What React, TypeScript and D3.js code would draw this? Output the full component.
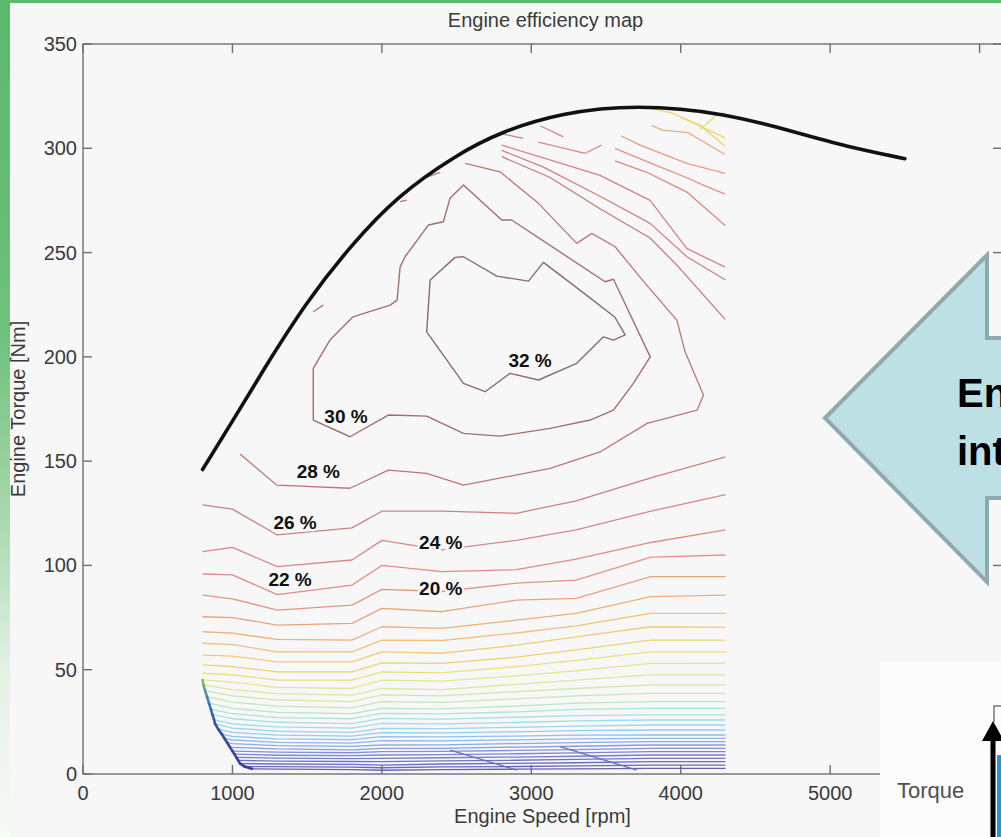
import React from "react";
import * as d3 from "d3";

// axis ticks
const xTicks = [0, 1000, 2000, 3000, 4000, 5000, 6000];
const xTickLabels = ["0", "1000", "2000", "3000", "4000", "5000"];
const yTicks = [0, 50, 100, 150, 200, 250, 300, 350];

// full load torque curve
const wotRpm = [800, 1000, 1200, 1500, 1800, 2100, 2500, 2800, 3200, 3700, 4300, 4800, 5100, 5500];
const wotTorque = [146, 169, 193, 227, 254, 277, 297, 308, 317, 321, 317, 307, 301, 295];

// efficiency contours (lower part) sampled at fixed speeds
const gridRpm = [1000, 1300, 1800, 2000, 2400, 2900, 3300, 3800, 4300];
const rowLevel = [26, 24, 22, 20, 18, 16.5, 15, 14, 13, 12, 11, 10.2, 9.5, 8.8, 8.1, 7.4, 6.8, 6.2, 5.6, 5, 4.5, 4, 3.5, 3, 2.5, 2, 1.6, 1.2, 0.8, 0.5, 0.2];
const rowStartRpm = [800, 800, 800, 800, 800, 800, 800, 800, 800, 800, 800, 806, 817, 830, 843, 856, 866, 877, 884, 905, 930, 947, 965, 982, 1000, 1013, 1026, 1039, 1052, 1080, 1130];
const rowStartTorque = [129, 106.6, 95.9, 85.8, 75.4, 68.2, 62.7, 57, 52.3, 48.3, 45.1, 42.7, 40, 37, 34, 31, 28.5, 26, 24, 21.5, 19, 17, 15, 13, 11, 9.5, 8, 6.5, 5, 3.6, 2.5];
const rowTorque: (number | null)[][] = [
  [127, 114.6, 118, 126, 126, 125, 131, 142, 152],
  [108.7, 99.4, 102.6, 112, 107.5, 112, 117, 126, 134],
  [95.5, 86, 90.6, 100, 97, 98, 103, 111, 117],
  [84, 78.6, 81, 88.5, 87.5, 91.5, 93, 104, 105],
  [75, 71.4, 72.2, 79.4, 77.8, 83.4, 84.2, 94.6, 94.6],
  [67.5, 64.5, 64.2, 70.6, 69.8, 73.8, 77, 85, 85.8],
  [62, 58.6, 58.6, 64.2, 64, 67.6, 71, 77, 77],
  [56.5, 53.8, 53.8, 58.6, 57.9, 61.8, 65.7, 70.6, 70.3],
  [51.5, 49, 49, 53.3, 53, 56, 59.5, 64.2, 64.2],
  [47.5, 45, 45, 49, 48.5, 51.5, 54.5, 58.6, 58.6],
  [44, 41.5, 41, 45, 44.5, 47, 49.5, 53, 53.1],
  [40.5, 38.5, 37.8, 41, 40.5, 43, 45, 47.5, 47.5],
  [37.5, 35.5, 34.7, 37.9, 37.5, 39.5, 41, 42.7, 42.7],
  [34.5, 32.5, 31.7, 34.7, 34.3, 36, 37.5, 38.7, 38.7],
  [31.5, 29.5, 28.9, 31.5, 31.2, 32.5, 34, 34.7, 34.7],
  [29, 27, 26.5, 29.1, 28.8, 29.8, 31, 31.5, 31.5],
  [26.5, 24.8, 24.2, 26.7, 26.3, 27.2, 28, 28.3, 28.3],
  [24, 22.6, 22, 24.3, 24, 24.7, 25.5, 25.9, 25.9],
  [22, 20.5, 20, 21.9, 21.8, 22.4, 23, 23.5, 23.5],
  [20, 18.6, 18.2, 19.8, 19.7, 20.2, 20.8, 21.1, 21.1],
  [18, 16.8, 16.5, 17.9, 17.8, 18.2, 18.6, 18.7, 18.7],
  [16.3, 15.2, 14.8, 16, 15.9, 16.4, 16.8, 17.1, 17.1],
  [14.6, 13.6, 13.2, 13.9, 14, 14.6, 15, 15.5, 15.5],
  [12.8, 12, 11.6, 12.3, 12.3, 12.9, 13.3, 13.9, 13.9],
  [null, 10.5, 10.2, 10.7, 10.8, 11.3, 11.7, 12.3, 12.3],
  [null, 9, 8.8, 9.1, 9.3, 9.7, 10.1, 10.7, 10.7],
  [null, 7.6, 7.4, 7.5, 7.8, 8.1, 8.5, 9.1, 9.1],
  [null, 6.2, 6, 5.9, 6.3, 6.6, 7, 7.5, 7.5],
  [null, 4.8, 4.6, 4.3, 4.8, 5.1, 5.4, 5.9, 5.9],
  [null, 3.5, 3.3, 3, 3.4, 3.6, 3.9, 4.3, 4.3],
  [null, 2.3, 2.1, 1.8, 2.1, 2.3, 2.5, 2.7, 2.7],
];

// low-load diagonal contours near zero torque
const lowDiag = [
  [[2456, 11.5], [2903, 1.9]],
  [[3193, 13.1], [3706, 1.9]],
];

// island contours around the best point
const loop32 = [[2490, 247.7], [2546, 248], [2769, 238.7], [2981, 236.3], [3081, 245.3], [3380, 229], [3560, 219], [3628, 210.5], [3550, 208], [3483, 209.6], [3304, 196.9], [3048, 188.9], [2858, 192.1], [2691, 183.3], [2546, 187.3], [2300, 212], [2323, 236.8], [2490, 247.7]];
const loop30 = [[2102, 227.2], [2122, 243], [2155, 248], [2311, 263.2], [2412, 264.8], [2456, 276], [2546, 282.4], [2802, 265.6], [2869, 265.6], [3494, 236], [3550, 237.2], [3796, 200], [3683, 187.3], [3550, 174.5], [3394, 169.7], [3126, 165.7], [2791, 162], [2546, 163.3], [2300, 171.6], [2043, 172.1], [1787, 161.7], [1541, 169.7], [1541, 194.5], [1653, 208.1], [1807, 219.2], [2055, 224.8], [2102, 227.2]];
const line28 = [[1051, 153.4], [1296, 138.5], [1787, 137], [2043, 145.7], [2300, 144.1], [2546, 138.5], [3126, 146.5], [3460, 154.4], [3775, 168.1], [4110, 174.5], [4152, 181.7], [4029, 202.4], [3974, 217.6], [3762, 235.2], [3561, 252.8], [3405, 259.2], [3304, 254.4], [3048, 273.6], [2791, 288.7], [2557, 292.8]];

// high-speed / high-load contours and fragments under the full load curve
const upperLines = [
  [[3800, 319], [3940, 317], [4297, 305]],
  [[4000, 315], [4130, 311], [4297, 301]],
  [[4130, 309], [4240, 316], [4297, 317]],
  [[3806, 311], [3875, 308.7], [4049, 307.5], [4297, 297]],
  [[3600, 306], [3728, 301.5], [4041, 292.8], [4297, 288]],
  [[3560, 300], [3795, 293], [4036, 286], [4163, 282], [4297, 278]],
  [[3560, 294], [3773, 288.5], [4041, 279], [4297, 263]],
  [[3046, 303], [3360, 297.6], [3470, 301.5]],
  [[2802, 301.5], [3059, 295.9], [3460, 287], [3795, 275], [4040, 252], [4297, 243]],
  [[2802, 299], [3081, 291], [3460, 277], [3795, 264], [4041, 248], [4297, 237]],
  [[2802, 296], [3126, 286], [3460, 271], [3795, 257], [3974, 244], [4297, 218]],
  [[2791, 307.1], [2947, 304.7]],
  [[3059, 310.8], [3215, 305.5]],
  [[2122, 274.4], [2166, 275.2]],
  [[2302, 286.2], [2390, 288.5]],
  [[1541, 221.6], [1608, 224.8]],
];
const upperLevels = [12.6, 13, 12.4, 17, 19, 21, 23, 23, 25, 26, 27, 26, 24, 29, 28, 29];

// inline labels
const labelText = ["32 %", "30 %", "28 %", "26 %", "24 %", "22 %", "20 %"];
const labelRpm = [2992, 1760, 1575, 1419, 2394, 1386, 2394];
const labelTorque = [198.5, 171.3, 144.9, 120.5, 111.1, 93.3, 89];

// colour map (efficiency level -> colour)
const colorLevels = [0, 1, 2.5, 4, 5.5, 7, 8.5, 10, 11.5, 12.6, 14.5, 16, 18, 20, 22, 24, 26, 28, 30, 32];
const colorRange = ["#5e5eb4", "#7070c4", "#8490dc", "#8cb8ec", "#98d6f0", "#a8e2e0", "#bfe6c0", "#d6e8a0", "#e6e68a", "#ecd664", "#f2c87c", "#f0b47a", "#eca07c", "#e69482", "#e28a86", "#da8686", "#ce8080", "#bd7676", "#a46e6e", "#8a6c6c"];

const FONT = "'Liberation Sans', Arial, Helvetica, sans-serif";

export default function App() {
  const x = d3.scaleLinear().domain([0, 6150]).range([83, 1002]);
  const y = d3.scaleLinear().domain([0, 350]).range([774, 44]);
  const color = d3.scaleLinear<string>().domain(colorLevels).range(colorRange).clamp(true);
  const edgeColor = d3.scaleLinear<string>().domain([0, 5, 8, 10.5]).range(["#3c3c9c", "#2f52a0", "#3f80b0", "#8cc650"]).clamp(true);

  const line = d3.line<number[]>().x((d) => x(d[0])).y((d) => y(d[1]));
  const wotPath = d3
    .line<number>()
    .x((d, i) => x(wotRpm[i]))
    .y((d) => y(d))
    .curve(d3.curveBasis)(wotTorque);

  const rows = rowTorque.map((vals, i) => {
    const pts: number[][] = [[rowStartRpm[i], rowStartTorque[i]]];
    vals.forEach((v, j) => {
      if (v != null && gridRpm[j] > rowStartRpm[i]) pts.push([gridRpm[j], v]);
    });
    return pts;
  });

  const edgeSegs: { a: number[]; b: number[]; lvl: number }[] = [];
  for (let i = 10; i < rowStartRpm.length - 1; i++) {
    edgeSegs.push({
      a: [rowStartRpm[i], rowStartTorque[i]],
      b: [rowStartRpm[i + 1], rowStartTorque[i + 1]],
      lvl: rowLevel[i + 1],
    });
  }

  const [x0, x1] = x.range();
  const [yb, yt] = y.range();

  return (
    <svg width={1001} height={837} style={{ position: "absolute", left: 0, top: 0, display: "block" }} fontFamily={FONT}>
      <defs>
        <linearGradient id="band" x1="0" y1="0" x2="0" y2="1">
          <stop offset="0" stopColor="#5bb96b" />
          <stop offset="0.4" stopColor="#6fc07c" />
          <stop offset="0.62" stopColor="#a9d8b0" />
          <stop offset="0.8" stopColor="#e3f1e4" />
          <stop offset="1" stopColor="#f7faf7" />
        </linearGradient>
        <clipPath id="page">
          <rect x={0} y={0} width={1001} height={837} />
        </clipPath>
      </defs>

      <rect x={0} y={0} width={1001} height={837} fill="#f7f7f7" />
      <rect x={0} y={0} width={10} height={837} fill="url(#band)" />
      <rect x={0} y={0} width={1001} height={3} fill="#5bb96b" />

      {/* contours */}
      <g fill="none" strokeWidth={1.3} strokeLinejoin="round">
        {rows.map((pts, i) => (
          <path key={"r" + i} d={line(pts) || ""} stroke={color(rowLevel[i])} />
        ))}
        {lowDiag.map((pts, i) => (
          <path key={"ld" + i} d={line(pts) || ""} stroke={color(0.8)} />
        ))}
        {edgeSegs.map((s, i) => (
          <path key={"e" + i} d={line([s.a, s.b]) || ""} stroke={edgeColor(s.lvl)} strokeWidth={2.6} strokeLinecap="round" />
        ))}
        {upperLines.map((pts, i) => (
          <path key={"u" + i} d={line(pts) || ""} stroke={color(upperLevels[i])} />
        ))}
        <path d={line(line28) || ""} stroke={color(28)} />
        <path d={line(loop30) || ""} stroke={color(30)} strokeWidth={1.4} />
        <path d={line(loop32) || ""} stroke={color(32)} strokeWidth={1.4} />
      </g>

      {/* full load curve */}
      <path d={wotPath || ""} fill="none" stroke="#111" strokeWidth={3.6} strokeLinecap="round" />

      {/* labels */}
      <g fontSize={19} fontWeight="bold" textAnchor="middle" fill="#111">
        {labelText.map((t, i) => (
          <text
            key={t}
            x={x(labelRpm[i])}
            y={y(labelTorque[i])}
            dy="0.35em"
            stroke="#f7f7f7"
            strokeWidth={5}
            style={{ paintOrder: "stroke" }}
          >
            {t}
          </text>
        ))}
      </g>

      {/* axes box */}
      <g stroke="#6f6f6f" strokeWidth={1.4} fill="none">
        <rect x={x0} y={yt} width={x1 - x0} height={yb - yt} />
        {xTicks.map((t) => (
          <g key={"xt" + t}>
            <line x1={x(t)} x2={x(t)} y1={yb} y2={yb - 9} />
            <line x1={x(t)} x2={x(t)} y1={yt} y2={yt + 9} />
          </g>
        ))}
        {yTicks.map((t) => (
          <g key={"yt" + t}>
            <line x1={x0} x2={x0 + 9} y1={y(t)} y2={y(t)} />
            <line x1={x1} x2={x1 - 9} y1={y(t)} y2={y(t)} />
          </g>
        ))}
      </g>
      <g fontSize={20} fill="#3a3a3a">
        {xTickLabels.map((lab, i) => (
          <text key={"xl" + lab} x={x(xTicks[i])} y={800} textAnchor="middle">
            {lab}
          </text>
        ))}
        {yTicks.map((t) => (
          <text key={"yl" + t} x={x0 - 6} y={y(t)} dy="0.35em" textAnchor="end">
            {t}
          </text>
        ))}
        <text x={(x0 + x1) / 2 + 3} y={27} textAnchor="middle">
          Engine efficiency map
        </text>
        <text x={(x0 + x1) / 2} y={823} textAnchor="middle">
          Engine Speed [rpm]
        </text>
        <text transform={`translate(25, ${(yb + yt) / 2}) rotate(-90)`} textAnchor="middle">
          Engine Torque [Nm]
        </text>
      </g>

      {/* callout arrow */}
      <g clipPath="url(#page)">
        <polygon
          points="825,418 987,255 987,338 1012,338 1012,498 987,498 987,582"
          fill="#bde0e4"
          stroke="#8eaaac"
          strokeWidth={4}
          strokeLinejoin="miter"
        />
        <g fontSize={40} fontWeight="bold" fill="#000">
          <text x={957} y={407}>Engine</text>
          <text x={957} y={465}>interpolation</text>
        </g>
      </g>

      {/* inset fragment */}
      <g clipPath="url(#page)">
        <rect x={880} y={662} width={121} height={175} fill="#fbfcfb" />
        <text x={897} y={798} fontSize={22} fill="#4f4f4f">
          Torque
        </text>
        <rect x={997} y={755} width={6} height={82} fill="#1e9bd7" />
        <polyline points="994,722 994,706 1003,706" fill="none" stroke="#777" strokeWidth={1.5} />
        <rect x={990.5} y={736} width={5} height={101} fill="#000" />
        <polygon points="993,721 982,741 1004,741" fill="#000" />
      </g>
    </svg>
  );
}
